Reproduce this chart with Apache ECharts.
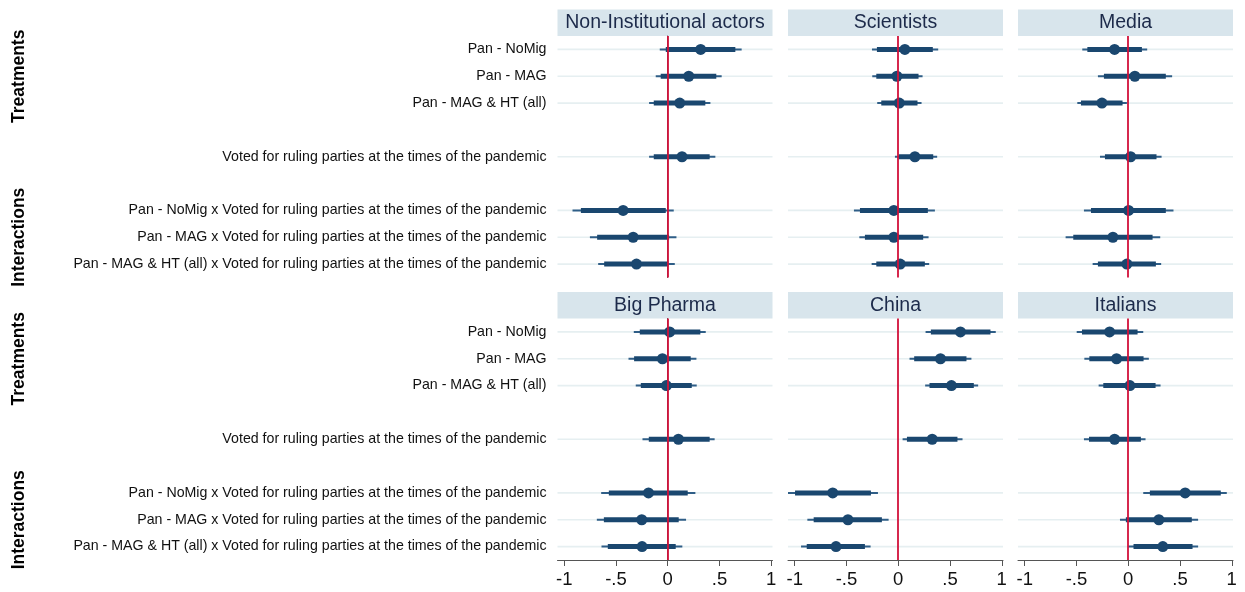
<!DOCTYPE html>
<html>
<head>
<meta charset="utf-8">
<script src="https://cdn.jsdelivr.net/npm/echarts@6/dist/echarts.min.js"></script>
<style>
html,body{margin:0;padding:0;background:#fff;}
#chart{width:1245px;height:592px;}
</style>
</head>
<body>
<div id="chart"></div>
<script>
// ---------------- DATA ----------------
const categories = [
  'Pan - NoMig',
  'Pan - MAG',
  'Pan - MAG & HT (all)',
  '',
  'Voted for ruling parties at the times of the pandemic',
  '',
  'Pan - NoMig x Voted for ruling parties at the times of the pandemic',
  'Pan - MAG x Voted for ruling parties at the times of the pandemic',
  'Pan - MAG & HT (all) x Voted for ruling parties at the times of the pandemic'
];
const rowIdx = [0, 1, 2, 4, 6, 7, 8];
const panelTitles = ['Non-Institutional actors', 'Scientists', 'Media', 'Big Pharma', 'China', 'Italians'];
const groupLabels = ['Treatments', 'Interactions'];
const groupRows = [1, 7];
const xTickValues = [-1, -0.5, 0, 0.5, 1];
const xTickLabels = ['-1', '-.5', '0', '.5', '1'];

const nonInstEst = [0.318, 0.203, 0.116, 0.138, -0.431, -0.334, -0.302];
const nonInstOuter = [[-0.077,0.714],[-0.116,0.521],[-0.18,0.412],[-0.18,0.46],[-0.92,0.058],[-0.752,0.084],[-0.672,0.068]];
const nonInstInner = [[-0.019,0.653],[-0.068,0.469],[-0.135,0.363],[-0.135,0.405],[-0.839,-0.019],[-0.682,0.013],[-0.614,0.006]];

const scientistsEst = [0.064, -0.013, 0.01, 0.161, -0.042, -0.042, 0.019];
const scientistsOuter = [[-0.254,0.386],[-0.251,0.235],[-0.203,0.225],[-0.032,0.376],[-0.428,0.354],[-0.376,0.293],[-0.257,0.299]];
const scientistsInner = [[-0.206,0.334],[-0.212,0.196],[-0.164,0.186],[0.003,0.338],[-0.37,0.286],[-0.322,0.241],[-0.212,0.257]];

const mediaEst = [-0.132, 0.064, -0.254, 0.023, 0.003, -0.148, -0.013];
const mediaOuter = [[-0.444,0.183],[-0.293,0.424],[-0.492,-0.013],[-0.273,0.322],[-0.428,0.437],[-0.605,0.309],[-0.344,0.318]];
const mediaInner = [[-0.395,0.132],[-0.235,0.363],[-0.457,-0.055],[-0.225,0.273],[-0.36,0.363],[-0.531,0.235],[-0.293,0.267]];

const bigPharmaEst = [0.019, -0.051, -0.013, 0.103, -0.186, -0.251, -0.248];
const bigPharmaOuter = [[-0.328,0.367],[-0.379,0.277],[-0.309,0.28],[-0.244,0.453],[-0.643,0.267],[-0.685,0.177],[-0.64,0.141]];
const bigPharmaInner = [[-0.27,0.315],[-0.325,0.222],[-0.26,0.232],[-0.183,0.405],[-0.569,0.193],[-0.617,0.106],[-0.579,0.077]];

const chinaEst = [0.601, 0.408, 0.514, 0.328, -0.633, -0.486, -0.601];
const chinaOuter = [[0.264,0.942],[0.109,0.707],[0.26,0.772],[0.042,0.621],[-1.065,-0.196],[-0.878,-0.093],[-0.939,-0.267]];
const chinaInner = [[0.315,0.891],[0.154,0.659],[0.302,0.73],[0.084,0.572],[-0.997,-0.264],[-0.817,-0.158],[-0.884,-0.322]];

const italiansEst = [-0.18, -0.113, 0.016, -0.132, 0.55, 0.296, 0.334];
const italiansOuter = [[-0.498,0.145],[-0.424,0.199],[-0.286,0.312],[-0.428,0.167],[0.145,0.952],[-0.08,0.675],[0.0,0.675]];
const italiansInner = [[-0.447,0.09],[-0.376,0.148],[-0.241,0.264],[-0.379,0.122],[0.209,0.894],[-0.023,0.614],[0.051,0.621]];

const panelEst = [nonInstEst, scientistsEst, mediaEst, bigPharmaEst, chinaEst, italiansEst];
const panelOuter = [nonInstOuter, scientistsOuter, mediaOuter, bigPharmaOuter, chinaOuter, italiansOuter];
const panelInner = [nonInstInner, scientistsInner, mediaInner, bigPharmaInner, chinaInner, italiansInner];

// ---------------- LAYOUT / STYLE ----------------
const FONT = '"Liberation Sans", Arial, Helvetica, sans-serif';
const colLeft = [557.5, 788, 1018];
const colWidth = 215;
const rowTop = [36, 318.5];
const rowHeight = 241.5;
const headerH = 26.5;
const xMin = -1.065, xMax = 1.012;
const NAVY = '#1a476f';
const THIN = '#2f5e87';
const RED = '#d2113a';
const GRIDC = '#e6eff1';
const AXISC = '#555';

const chart = echarts.init(document.getElementById('chart'), null, {renderer: 'canvas'});

const grids = [], xAxes = [], yAxes = [], series = [], graphics = [];

for (let p = 0; p < 6; p++) {
  const r = Math.floor(p / 3), c = p % 3;
  grids.push({left: colLeft[c], top: rowTop[r], width: colWidth, height: rowHeight, containLabel: false});
  xAxes.push({
    gridIndex: p, type: 'value', min: xMin, max: xMax,
    show: r === 1,
    splitLine: {show: false},
    axisLine: {show: true, onZero: false, lineStyle: {color: AXISC, width: 1}},
    axisTick: {show: true, length: 6, customValues: xTickValues, lineStyle: {color: AXISC, width: 1}},
    axisLabel: {
      show: true, customValues: xTickValues, margin: 10,
      fontFamily: FONT, fontSize: 18.5, color: '#111',
      formatter: v => { const i = xTickValues.findIndex(t => Math.abs(t - v) < 1e-9); return i >= 0 ? xTickLabels[i] : ''; }
    }
  });
  yAxes.push({
    gridIndex: p, type: 'category', data: categories, inverse: true,
    show: c === 0,
    boundaryGap: true,
    splitLine: {show: false},
    axisLine: {show: true, lineStyle: {color: AXISC, width: 1}},
    axisTick: {show: true, length: 7, alignWithLabel: true,
      interval: (i) => categories[i] !== '', lineStyle: {color: AXISC, width: 1}},
    axisLabel: {show: true, interval: 0, margin: 11, fontFamily: FONT, fontSize: 14.2, color: '#111'}
  });

  const est = panelEst[p], outer = panelOuter[p], inner = panelInner[p];
  const ciData = rowIdx.map((row, i) => [row, outer[i][0], outer[i][1], inner[i][0], inner[i][1]]);
  const ptData = rowIdx.map((row, i) => [est[i], row]);

  // horizontal row guide lines + zero reference line
  series.push({
    type: 'custom', xAxisIndex: p, yAxisIndex: p, z: 1, silent: true, animation: false,
    data: rowIdx.map(r0 => [r0]),
    encode: {y: 0},
    renderItem: (params, api) => {
      const cs = params.coordSys;
      const y = api.coord([0, api.value(0)])[1];
      return {type: 'line', shape: {x1: cs.x, y1: y, x2: cs.x + cs.width, y2: y},
        style: {stroke: GRIDC, lineWidth: 1.6}};
    },
    markLine: {
      silent: true, animation: false, symbol: ['none', 'none'], label: {show: false},
      lineStyle: {color: RED, width: 1.8, type: 'solid'},
      emphasis: {disabled: true},
      data: [{xAxis: 0}]
    }
  });

  // confidence intervals
  series.push({
    type: 'custom', xAxisIndex: p, yAxisIndex: p, z: 3, silent: true, animation: false,
    data: ciData,
    encode: {y: 0, x: [1, 2, 3, 4]},
    renderItem: (params, api) => {
      const row = api.value(0);
      const a = api.coord([api.value(1), row]), b = api.coord([api.value(2), row]);
      const c1 = api.coord([api.value(3), row]), d = api.coord([api.value(4), row]);
      return {type: 'group', children: [
        {type: 'line', shape: {x1: a[0], y1: a[1], x2: b[0], y2: b[1]}, style: {stroke: THIN, lineWidth: 2}},
        {type: 'line', shape: {x1: c1[0], y1: c1[1], x2: d[0], y2: d[1]}, style: {stroke: NAVY, lineWidth: 5}}
      ]};
    }
  });

  // point estimates
  series.push({
    type: 'scatter', xAxisIndex: p, yAxisIndex: p, z: 4, silent: true, animation: false,
    symbol: 'circle', symbolSize: 11,
    itemStyle: {color: NAVY, opacity: 1},
    data: ptData
  });

  // panel header
  graphics.push({
    type: 'rect', silent: true,
    shape: {x: colLeft[c], y: rowTop[r] - headerH, width: colWidth, height: headerH},
    style: {fill: '#d8e5ec'}
  });
  graphics.push({
    type: 'text', silent: true,
    x: colLeft[c] + colWidth / 2, y: rowTop[r] - headerH / 2,
    style: {text: panelTitles[p], fontFamily: FONT, fontSize: 19.5, fill: '#1c2a4a',
      align: 'center', verticalAlign: 'middle'}
  });
}

// rotated group labels (positioned on the y scale of the left panels)
const slot = rowHeight / categories.length;
for (let r = 0; r < 2; r++) {
  for (let g = 0; g < 2; g++) {
    graphics.push({
      type: 'text', silent: true,
      x: 19.5, y: rowTop[r] + slot * (groupRows[g] + 0.5),
      rotation: Math.PI / 2,
      style: {text: groupLabels[g], fontFamily: FONT, fontSize: 17.5, fontWeight: 'bold', fill: '#000',
        align: 'center', verticalAlign: 'middle'}
    });
  }
}

chart.setOption({
  animation: false,
  backgroundColor: '#fff',
  grid: grids,
  xAxis: xAxes,
  yAxis: yAxes,
  series: series,
  graphic: graphics
});
</script>
</body>
</html>
